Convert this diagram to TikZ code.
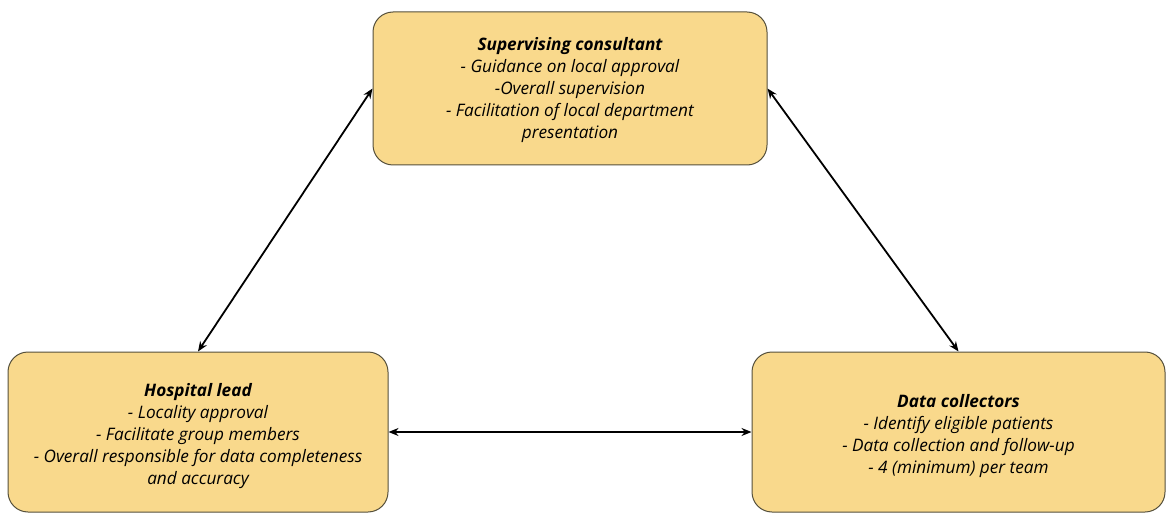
\documentclass[tikz,border=0pt]{standalone}
\usepackage{fontspec}
\setmainfont{Open Sans}
\usetikzlibrary{arrows.meta}
\definecolor{boxfill}{RGB}{249,217,140}
\definecolor{boxline}{RGB}{85,80,60}
\begin{document}
\begin{tikzpicture}[x=1pt, y=-1pt, >={Stealth[length=10pt,width=8pt]},
		rolebox/.style={draw=boxline, line width=1pt, fill=boxfill, rounded corners=20pt, inner sep=0pt},
		roletext/.style={align=center, inner sep=0pt, font=\fontsize{17.2}{22}\selectfont\itshape},
		link/.style={<->, line width=1.8pt, black}]
	\useasboundingbox (0,0) rectangle (1167,513);
	% Ba ô vai trò
	\node[rolebox, minimum width=394pt, minimum height=153pt] (sup) at (570,88.5) {};
	\node[rolebox, minimum width=380pt, minimum height=160pt] (hosp) at (198,432) {};
	\node[rolebox, minimum width=413pt, minimum height=160pt] (data) at (958.5,432) {};
	% Chữ trong ô
	\node[roletext] (suptxt) at (570,90)
		{\textbf{Supervising consultant}\\- Guidance on local approval\\-Overall supervision\\- Facilitation of local department\\presentation};
	\node[roletext] (hosptxt) at (198,436)
		{\textbf{Hospital lead}\\- Locality approval\\- Facilitate group members\\- Overall responsible for data completeness\\and accuracy};
	\node[roletext] (datatxt) at (958.5,436)
		{\textbf{Data collectors}\\- Identify eligible patients\\- Data collection and follow-up\\- 4 (minimum) per team};
	% Mũi tên hai chiều
	\draw[link] (hosp.north) -- (sup.west);
	\draw[link] (sup.east) -- (data.north);
	\draw[link] (hosp.east) -- (data.west);
\end{tikzpicture}
\end{document}
